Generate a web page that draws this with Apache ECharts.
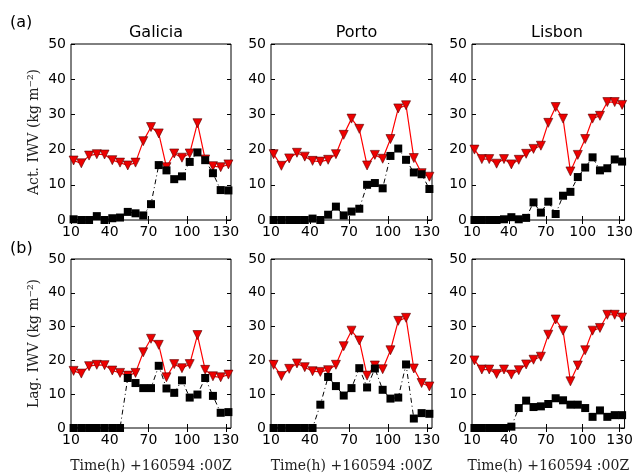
<html lang="en">
  <head>
    <meta charset="UTF-8" />
    <title>IWV</title>
  </head>
  <body style="margin: 0">
    <div id="main" style="width: 636px; height: 474px"></div>

    <script src="https://cdn.jsdelivr.net/npm/echarts@6.0.0/dist/echarts.min.js"></script>
    <script>
      const hours = [12, 18, 24, 30, 36, 42, 48, 54, 60, 66, 72, 78, 84, 90, 96, 102, 108, 114, 120, 126, 132]
      const xTicks = [10, 40, 70, 100, 130]
      const sites = ['Galicia', 'Porto', 'Lisbon']

      // observed IWV (red, same in both rows)
      const obsGalicia = [16.9, 16.1, 18.3, 18.7, 18.6, 17.0, 16.3, 15.5, 16.3, 22.4, 26.4, 24.6, 15.0, 18.9, 17.7, 18.9, 27.5, 17.2, 15.3, 15.0, 15.8]
      const obsPorto = [18.7, 15.4, 17.5, 19.1, 18.0, 16.8, 16.6, 17.1, 18.7, 24.2, 28.8, 25.9, 15.5, 18.5, 17.4, 23.0, 31.7, 32.6, 17.6, 13.3, 12.3]
      const obsLisbon = [20.0, 17.3, 17.3, 16.0, 17.3, 15.8, 17.1, 18.8, 20.2, 21.1, 27.6, 32.1, 28.8, 13.8, 18.5, 23.0, 28.8, 29.6, 33.5, 33.5, 32.7]

      // model IWV (black), active and lagged
      const actGalicia = [0.2, 0, 0, 1.1, 0, 0.5, 0.7, 2.3, 1.9, 1.3, 4.5, 15.6, 14.1, 11.6, 12.4, 16.5, 19.2, 17.0, 13.3, 8.5, 8.4]
      const actPorto = [0, 0, 0, 0, 0, 0.4, 0, 1.5, 3.8, 1.3, 2.4, 3.2, 10.0, 10.5, 9.0, 18.2, 20.3, 17.1, 13.5, 13.0, 8.8]
      const actLisbon = [0, 0, 0, 0, 0.2, 0.8, 0.2, 0.6, 5.0, 2.1, 5.2, 1.7, 6.9, 8.0, 12.2, 14.9, 17.8, 14.1, 14.7, 17.2, 16.6]
      const lagGalicia = [0, 0, 0, 0, 0, 0, 0, 14.8, 13.3, 11.8, 11.8, 18.4, 11.7, 10.4, 14.1, 9.0, 9.9, 14.8, 9.5, 4.5, 4.7]
      const lagPorto = [0, 0, 0, 0, 0, 0, 6.9, 15.1, 12.4, 9.6, 11.8, 17.7, 12.0, 17.6, 11.3, 8.7, 9.0, 18.8, 2.8, 4.4, 4.2]
      const lagLisbon = [0, 0, 0, 0, 0, 0.4, 5.9, 8.1, 6.2, 6.4, 7.1, 8.8, 8.2, 6.9, 6.9, 5.9, 3.3, 5.2, 3.3, 3.8, 3.8]

      const obsRows = [obsGalicia, obsPorto, obsLisbon]
      const modelRows = [
        [actGalicia, actPorto, actLisbon],
        [lagGalicia, lagPorto, lagLisbon]
      ]
      const rowNames = ['Act. IWV (kg m\u207B\u00B2)', 'Lag. IWV (kg m\u207B\u00B2)']

      const sans = 'DejaVu Sans'
      const serif = 'DejaVu Serif'
      const lefts = [71, 271, 472]
      const widths = [160, 161, 160]
      const tops = [44, 259]
      const heights = [176, 175]

      let grid = [], xAxis = [], yAxis = [], series = [], title = []
      let g = 0
      for (let r = 0; r < 2; r++) {
        for (let c = 0; c < 3; c++) {
          grid.push({
            left: lefts[c], top: tops[r], width: widths[c], height: heights[r],
            show: true, borderColor: '#000', borderWidth: 1, backgroundColor: '#fff'
          })
          let xBase = {
            type: 'value', gridIndex: g, min: 10, max: 134,
            axisLine: { show: false },
            splitLine: { show: false },
            axisTick: { inside: true, length: 4, customValues: xTicks, lineStyle: { color: '#000' } }
          }
          xAxis.push(Object.assign({}, xBase, {
            position: 'bottom',
            axisLabel: { customValues: xTicks, color: '#000', fontFamily: sans, fontSize: 14, margin: 5 },
            name: r == 1 ? 'Time(h) +160594 :00Z' : '',
            nameLocation: 'middle', nameGap: 31,
            nameTextStyle: { fontFamily: serif, fontSize: 14, color: '#222' }
          }))
          xAxis.push(Object.assign({}, xBase, { position: 'top', axisLabel: { show: false } }))
          let yBase = {
            type: 'value', gridIndex: g, min: 0, max: 50, interval: 10,
            axisLine: { show: false },
            splitLine: { show: false },
            axisTick: { inside: true, length: 4, lineStyle: { color: '#000' } }
          }
          yAxis.push(Object.assign({}, yBase, {
            position: 'left',
            axisLabel: { color: '#000', fontFamily: sans, fontSize: 14, margin: 5 },
            name: c == 0 ? rowNames[r] : '',
            nameLocation: 'middle', nameGap: 30,
            nameTextStyle: { fontFamily: serif, fontSize: 14, color: '#222' }
          }))
          yAxis.push(Object.assign({}, yBase, { position: 'right', axisLabel: { show: false } }))

          series.push({
            type: 'line', xAxisIndex: 2 * g, yAxisIndex: 2 * g,
            data: hours.map((h, i) => [h, obsRows[c][i]]),
            symbol: 'triangle', symbolRotate: 180, symbolSize: 9,
            lineStyle: { color: '#ff0000', width: 1.2 },
            itemStyle: { color: '#ee0000', borderColor: '#550000', borderWidth: 0.6 },
            animation: false, z: 2
          })
          series.push({
            type: 'line', xAxisIndex: 2 * g, yAxisIndex: 2 * g,
            data: hours.map((h, i) => [h, modelRows[r][c][i]]),
            symbol: 'rect', symbolSize: 8,
            lineStyle: { color: '#000', width: 1, type: [5, 3, 1, 3] },
            itemStyle: { color: '#000' },
            animation: false, z: 3
          })
          g++
        }
      }
      for (let c = 0; c < 3; c++) {
        title.push({
          text: sites[c], left: lefts[c] + widths[c] / 2, top: 20, textAlign: 'center',
          textStyle: { fontFamily: sans, fontSize: 16, fontWeight: 'normal', color: '#000' }
        })
      }
      title.push({ text: '(a)', left: 5, top: 10, textStyle: { fontFamily: sans, fontSize: 16, fontWeight: 'normal', color: '#000' } })
      title.push({ text: '(b)', left: 5, top: 236, textStyle: { fontFamily: sans, fontSize: 16, fontWeight: 'normal', color: '#000' } })

      let mCharts = echarts.init(document.querySelector('#main'))
      mCharts.setOption({ animation: false, title, grid, xAxis, yAxis, series })
    </script>
  </body>
</html>
